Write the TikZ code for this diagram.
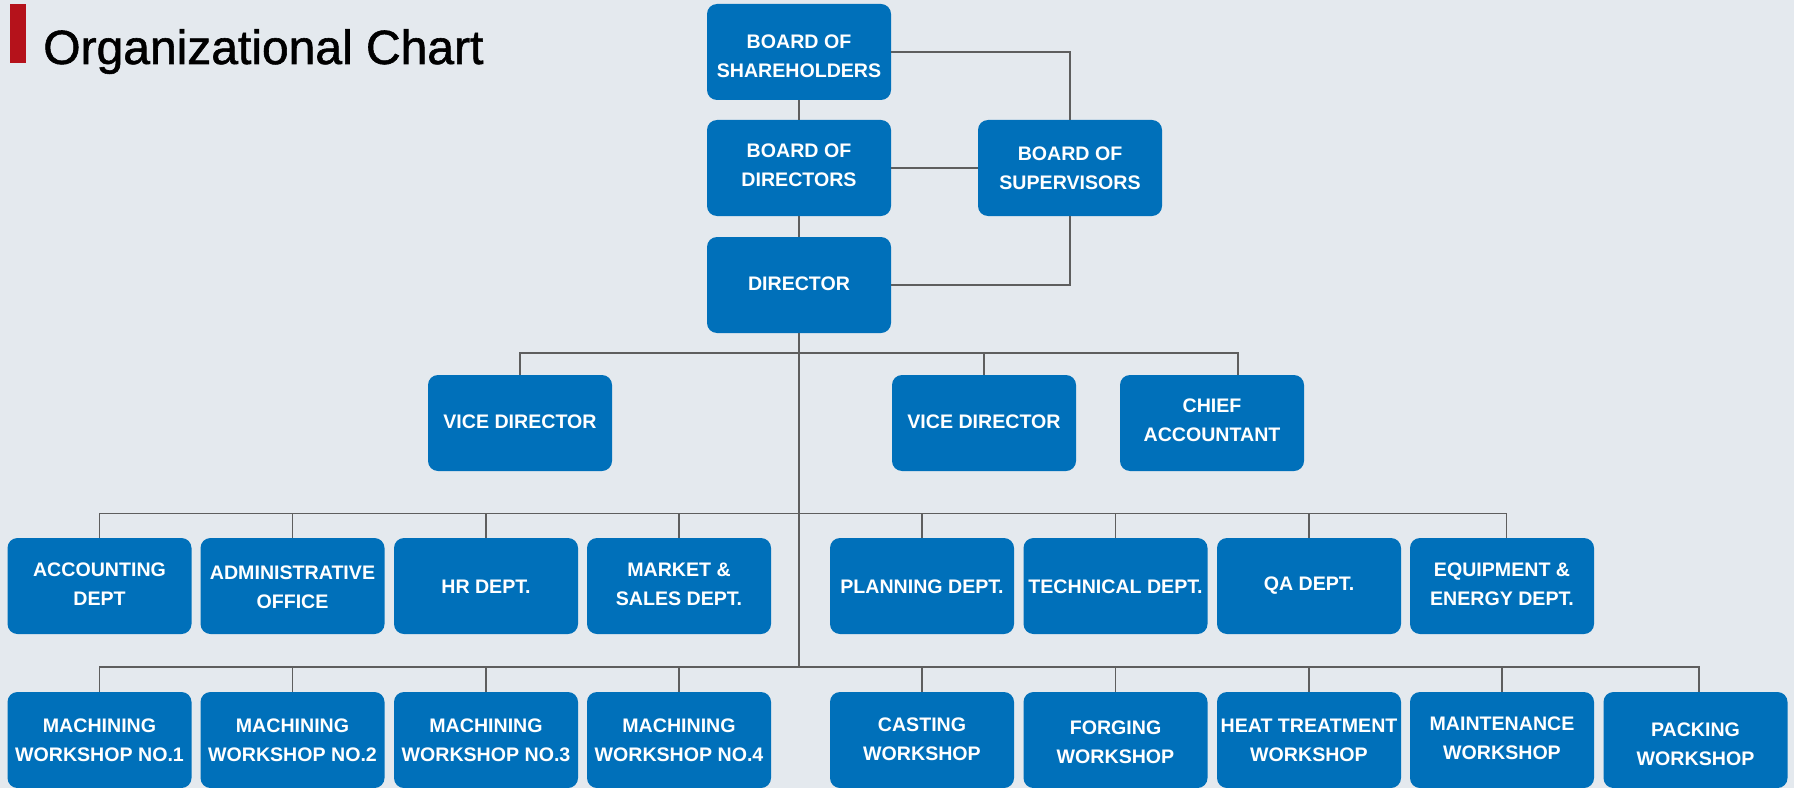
\documentclass[tikz,border=0pt]{standalone}
\usepackage{fontspec}
\setmainfont{Liberation Sans}
\newfontfamily\titlefont[FakeBold=1.2]{Liberation Sans}
\definecolor{bgc}{HTML}{E4E9EE}
\definecolor{boxc}{HTML}{0070BA}
\definecolor{linec}{HTML}{5E5E5E}
\definecolor{redc}{HTML}{B5121B}
\begin{document}
\begin{tikzpicture}[x=0.75pt,y=-0.75pt,
  orgbox/.style={rectangle, rounded corners=7.5pt, fill=boxc,
    minimum width=138pt, minimum height=72pt, inner sep=0pt},
  txt/.style={text=white, align=center, inner sep=0pt,
    font=\bfseries\fontsize{14.7}{21.75}\selectfont},
  lbl/.style 2 args={label={[txt,yshift=#1]center:{#2}}},
  conn/.style={draw=linec, line width=1.1pt}]
\fill[bgc] (0,0) rectangle (1794,788);
\useasboundingbox (0,0) rectangle (1794,788);
% title
\node[fill=redc, minimum width=12pt, minimum height=44.25pt, inner sep=0pt, anchor=north west] (bar) at (10,4) {};
\node[anchor=base west, inner sep=0pt, font=\titlefont\fontsize{36}{40}\selectfont] (title) at (43,64) {Organizational Chart};
% top
\node[orgbox, lbl={-3.4pt}{BOARD OF\\SHAREHOLDERS}] (sh) at (799,52) {};
\node[orgbox, lbl={2.4pt}{BOARD OF\\DIRECTORS}] (bd) at (799,168) {};
\node[orgbox, lbl={0.7pt}{DIRECTOR}] (dir) at (799,285) {};
\node[orgbox, lbl={0pt}{BOARD OF\\SUPERVISORS}] (sup) at (1070,168) {};
% row 2
\node[orgbox, lbl={0.8pt}{VICE DIRECTOR}] (vd1) at (520,423) {};
\node[orgbox, lbl={0.8pt}{VICE DIRECTOR}] (vd2) at (984,423) {};
\node[orgbox, lbl={2.4pt}{CHIEF\\ACCOUNTANT}] (ca) at (1212,423) {};
% row 3
\node[orgbox, lbl={1.6pt}{ACCOUNTING\\DEPT}] (acc) at (99.5,586) {};
\node[orgbox, lbl={-0.8pt}{ADMINISTRATIVE\\OFFICE}] (adm) at (292.5,586) {};
\node[orgbox, lbl={-0.6pt}{HR DEPT.}] (hr) at (486,586) {};
\node[orgbox, lbl={1.6pt}{MARKET \&\\SALES DEPT.}] (mkt) at (679,586) {};
\node[orgbox, lbl={-0.6pt}{PLANNING DEPT.}] (plan) at (922,586) {};
\node[orgbox, lbl={-0.6pt}{TECHNICAL DEPT.}] (tech) at (1115.5,586) {};
\node[orgbox, lbl={0pt}{QA DEPT.}] (qa) at (1309,586) {};
\node[orgbox, lbl={1.6pt}{EQUIPMENT \&\\ENERGY DEPT.}] (eq) at (1502,586) {};
% row 4
\node[orgbox, lbl={0pt}{MACHINING\\WORKSHOP NO.1}] (m1) at (99.5,740) {};
\node[orgbox, lbl={0pt}{MACHINING\\WORKSHOP NO.2}] (m2) at (292.5,740) {};
\node[orgbox, lbl={0pt}{MACHINING\\WORKSHOP NO.3}] (m3) at (486,740) {};
\node[orgbox, lbl={0pt}{MACHINING\\WORKSHOP NO.4}] (m4) at (679,740) {};
\node[orgbox, lbl={0.5pt}{CASTING\\WORKSHOP}] (cast) at (922,740) {};
\node[orgbox, lbl={-1.6pt}{FORGING\\WORKSHOP}] (forg) at (1115.5,740) {};
\node[orgbox, lbl={-0.5pt}{HEAT TREATMENT\\WORKSHOP}] (heat) at (1309,740) {};
\node[orgbox, lbl={1pt}{MAINTENANCE\\WORKSHOP}] (maint) at (1502,740) {};
\node[orgbox, lbl={-3.4pt}{PACKING\\WORKSHOP}] (pack) at (1695.5,740) {};
% bus coordinates
\coordinate (bus2) at (799,353);
\coordinate (bus3) at (799,513.5);
\coordinate (bus4) at (799,667);
% connectors
\draw[conn] (sh.south) -- (bd.north);
\draw[conn] (bd.south) -- (dir.north);
\draw[conn] (sh.east) -| (sup.north);
\draw[conn] (bd.east) -- (sup.west);
\draw[conn] (sup.south) |- (dir.east);
\draw[conn] (dir.south) -- (bus4);
\draw[conn] (vd1.north) |- (bus2) -| ([xshift=19.5pt]ca.north);
\draw[conn] (vd2.north) -- (vd2.north |- bus2);
\draw[conn] (acc.north) |- (bus3) -| ([xshift=3.5pt]eq.north);
\foreach \n in {adm,hr,mkt,plan,tech,qa} \draw[conn] (\n.north) -- (\n.north |- bus3);
\draw[conn] (m1.north) |- (bus4) -| ([xshift=2.5pt]pack.north);
\foreach \n in {m2,m3,m4,cast,forg,heat,maint} \draw[conn] (\n.north) -- (\n.north |- bus4);
\end{tikzpicture}
\end{document}
